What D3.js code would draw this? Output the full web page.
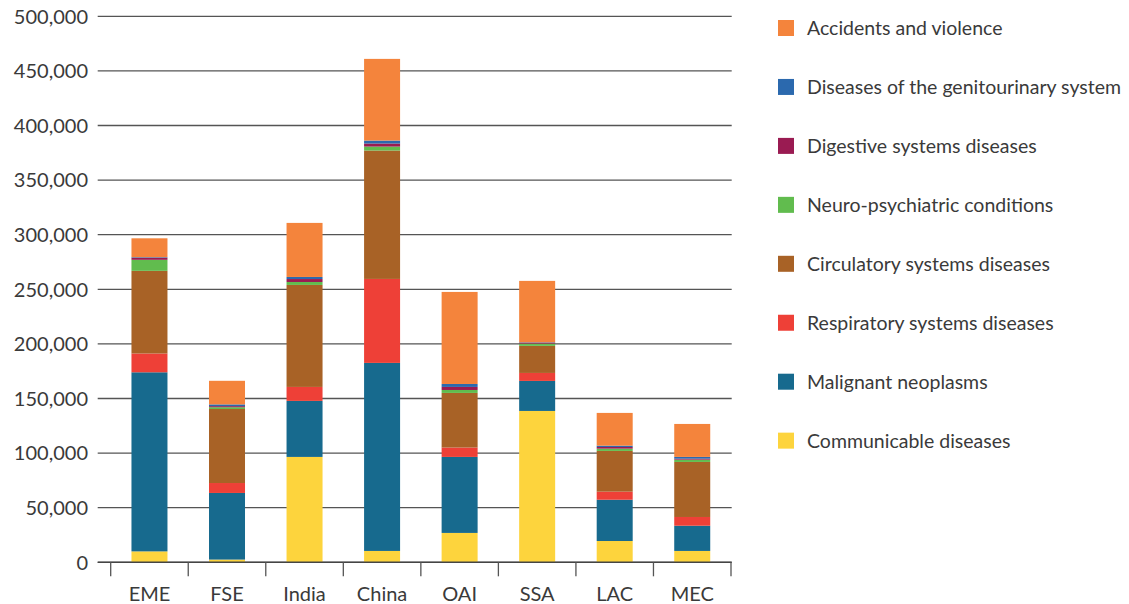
<!DOCTYPE html>
<html>
<head>
<meta charset="utf-8">
<script src="https://cdn.jsdelivr.net/npm/d3@7"></script>
<style>
  body { margin: 0; background: #fff; }
  text { font-family: Lato, "Open Sans", sans-serif; fill: #3a3a3a; }
</style>
</head>
<body>
<svg id="svg"></svg>
<script>
const regions = ["EME", "FSE", "India", "China", "OAI", "SSA", "LAC", "MEC"];

// deaths per cause, one value per region (same order as regions)
const communicable = [10000, 2500, 96500, 10400, 26900, 138600, 19500, 10400];
const malignant = [164000, 61000, 51300, 172200, 69600, 27500, 37800, 23100];
const respiratory = [17200, 9100, 12800, 76900, 8600, 7300, 7400, 8000];
const circulatory = [75700, 67800, 93400, 117600, 50000, 24800, 37300, 50400];
const neuro = [10100, 1600, 2700, 3600, 2700, 2100, 2100, 2100];
const digestive = [1800, 1000, 2700, 2800, 2800, 900, 1500, 900];
const genitourinary = [600, 1600, 1900, 2700, 2700, 300, 1200, 1600];
const accidents = [17300, 21600, 49500, 74800, 84300, 56200, 30000, 30200];

const causes = [
  "Communicable diseases",
  "Malignant neoplasms",
  "Respiratory systems diseases",
  "Circulatory systems diseases",
  "Neuro-psychiatric conditions",
  "Digestive systems diseases",
  "Diseases of the genitourinary system",
  "Accidents and violence"
];
const causeValues = [communicable, malignant, respiratory, circulatory, neuro, digestive, genitourinary, accidents];
const causeColors = ["#fdd43d", "#176a8e", "#ee4037", "#a86226", "#61bc4e", "#9a1b52", "#2b69ae", "#f4843c"];

const yTicks = [0, 50000, 100000, 150000, 200000, 250000, 300000, 350000, 400000, 450000, 500000];

const rows = regions.map((r, i) => {
  const row = { region: r };
  causes.forEach((c, j) => { row[c] = causeValues[j][i]; });
  return row;
});

const layout = { width: 1129, height: 604, left: 110.7, right: 731, top: 16.3, bottom: 562.3, gridStart: 97.7 };

const svg = d3.select("#svg").attr("width", layout.width).attr("height", layout.height);

const xScale = d3.scaleBand().domain(regions).range([layout.left, layout.right]);
const yScale = d3.scaleLinear().domain([0, 500000]).range([layout.bottom, layout.top]);
const color = d3.scaleOrdinal().domain(causes).range(causeColors);

const series = d3.stack().keys(causes)(rows);

// gridlines + y labels
svg.append("g")
  .selectAll("line")
  .data(yTicks)
  .join("line")
  .attr("x1", layout.gridStart)
  .attr("x2", layout.right + 0.7)
  .attr("y1", d => yScale(d))
  .attr("y2", d => yScale(d))
  .attr("stroke", "#555")
  .attr("stroke-width", 1.3);

svg.append("g")
  .selectAll("text")
  .data(yTicks)
  .join("text")
  .attr("x", 88)
  .attr("y", d => yScale(d))
  .attr("dy", "0.36em")
  .attr("text-anchor", "end")
  .attr("font-size", 20)
  .text(d => d3.format(",")(d));

// bars
const barW = 36;
svg.append("g")
  .selectAll("g")
  .data(series)
  .join("g")
  .attr("fill", d => color(d.key))
  .selectAll("rect")
  .data(d => d)
  .join("rect")
  .attr("x", d => xScale(d.data.region) + xScale.bandwidth() / 2 - barW / 2)
  .attr("y", d => yScale(d[1]))
  .attr("width", barW)
  .attr("height", d => yScale(d[0]) - yScale(d[1]));

// x axis
const xAxis = svg.append("g");
xAxis.append("line")
  .attr("x1", layout.gridStart).attr("x2", layout.right + 0.7)
  .attr("y1", layout.bottom).attr("y2", layout.bottom)
  .attr("stroke", "#444").attr("stroke-width", 1.5);

const bounds = regions.map(r => xScale(r)).concat([layout.right]);
xAxis.selectAll(".tick")
  .data(bounds)
  .join("line")
  .attr("class", "tick")
  .attr("x1", d => d).attr("x2", d => d)
  .attr("y1", layout.bottom).attr("y2", layout.bottom + 14)
  .attr("stroke", "#555").attr("stroke-width", 1.3);

xAxis.selectAll("text")
  .data(regions)
  .join("text")
  .attr("x", d => xScale(d) + xScale.bandwidth() / 2)
  .attr("y", 601)
  .attr("text-anchor", "middle")
  .attr("font-size", 20)
  .text(d => d);

// legend, top to bottom in reverse stack order
const legendItems = causes.slice().reverse();
const legend = svg.append("g")
  .selectAll("g")
  .data(legendItems)
  .join("g")
  .attr("transform", (d, i) => `translate(778, ${20 + i * 58.95})`);

legend.append("rect")
  .attr("width", 16)
  .attr("height", 16)
  .attr("fill", d => color(d));

legend.append("text")
  .attr("x", 29)
  .attr("y", 8)
  .attr("dy", "0.36em")
  .attr("font-size", 19.5)
  .text(d => d);
</script>
</body>
</html>
